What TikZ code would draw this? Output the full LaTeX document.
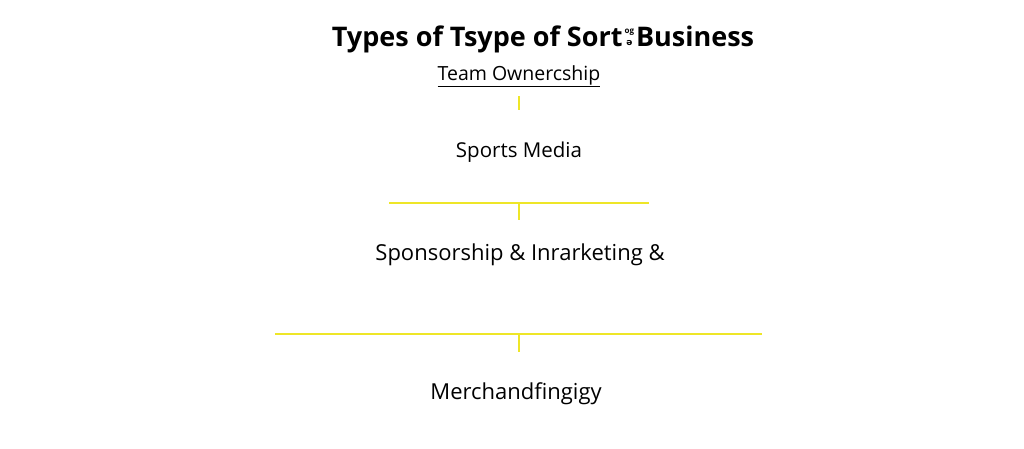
\documentclass[tikz,border=0pt]{standalone}
\usepackage{fontspec}
\setmainfont{Open Sans}
\newfontfamily\symfont{DejaVu Sans}
\definecolor{lineyellow}{RGB}{238,230,40}
\tikzset{
  lbl/.style={inner sep=0pt, anchor=center, text=black},
  yline/.style={draw=lineyellow, line width=1.8pt},
}
\begin{document}
\begin{tikzpicture}[x=1pt,y=-1pt]
\useasboundingbox[fill=white] (0,0) rectangle (1024,448);
\node[lbl, font=\fontsize{27}{32}\selectfont\bfseries] (title) at (543,39) {Types of Tsype of Sort\kern2pt\raisebox{1pt}{\shortstack{\fontsize{8}{8}\selectfont og\\[1.5pt]\fontsize{9}{9}\symfont ə}}\kern2pt Business};
\node[lbl, font=\fontsize{19.5}{23}\selectfont] (own) at (519,76) {\underline{Team Ownercship}};
\node[lbl, font=\fontsize{20.5}{24}\selectfont] (media) at (519,152) {Sports Media};
\node[lbl, font=\fontsize{22}{26}\selectfont] (spons) at (520,255) {Sponsorship \& Inrarketing \&};
\node[lbl, font=\fontsize{22}{26}\selectfont] (merch) at (516,394) {Merchandfingigy};
\coordinate (s1a) at (519,96);
\coordinate (s1b) at (519,110);
\coordinate (h1l) at (389,203);
\coordinate (h1r) at (649,203);
\coordinate (h1m) at (519,203);
\coordinate (h1d) at (519,220);
\coordinate (h2l) at (275,334);
\coordinate (h2r) at (762,334);
\coordinate (h2m) at (519,334);
\coordinate (h2d) at (519,352);
\draw[yline] (s1a) -- (s1b);
\draw[yline] (h1l) -- (h1r);
\draw[yline] (h1m) -- (h1d);
\draw[yline] (h2l) -- (h2r);
\draw[yline] (h2m) -- (h2d);
\end{tikzpicture}
\end{document}
